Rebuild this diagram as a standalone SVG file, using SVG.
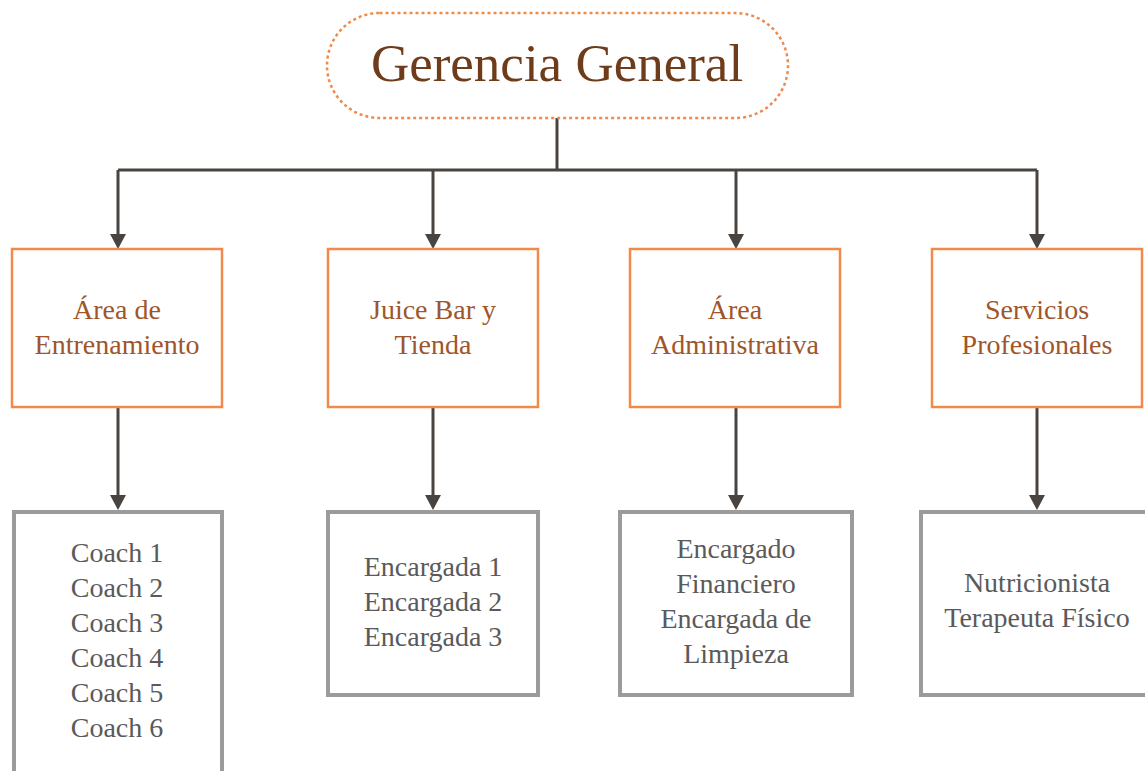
<svg xmlns="http://www.w3.org/2000/svg" width="1145" height="771" viewBox="0 0 1145 771">
<style>
.top{fill:#fff;stroke:#f0894a;stroke-width:2.5;stroke-dasharray:3 3}
.mid{fill:#fff;stroke:#ef8a4a;stroke-width:2.5}
.low{fill:#fff;stroke:#9b9b9b;stroke-width:4}
.t1{font-family:"Liberation Serif",serif;font-size:53px;fill:#6e3c1a;text-anchor:middle}
.t2{font-family:"Liberation Serif",serif;font-size:28px;fill:#a0552a;text-anchor:middle}
.t3{font-family:"Liberation Serif",serif;font-size:28px;fill:#5a5a5a;text-anchor:middle}
.c{fill:none;stroke:#4a4440;stroke-width:3}
</style>
<g id="connectors">
<path class="c" d="M557 118V170M118 170H1037M118 170V236M433 170V236M736 170V236M1037 170V236"/>
<path class="c" d="M118 407V496M433 407V496M736 407V496M1037 407V496"/>
<g fill="#4a4440">
<path d="M110 234H126L118 249Z"/>
<path d="M425 234H441L433 249Z"/>
<path d="M728 234H744L736 249Z"/>
<path d="M1029 234H1045L1037 249Z"/>
<path d="M110 495H126L118 510Z"/>
<path d="M425 495H441L433 510Z"/>
<path d="M728 495H744L736 510Z"/>
<path d="M1029 495H1045L1037 510Z"/>
</g>
</g>
<g id="gerencia">
<rect class="top" x="327" y="13" width="461" height="105" rx="52.5"/>
<text class="t1" x="557" y="81">Gerencia General</text>
</g>
<g id="entrenamiento">
<rect class="mid" x="12" y="249" width="210" height="158"/>
<text class="t2" x="117" y="319">Área de</text>
<text class="t2" x="117" y="354">Entrenamiento</text>
</g>
<g id="juicebar">
<rect class="mid" x="328" y="249" width="210" height="158"/>
<text class="t2" x="433" y="319">Juice Bar y</text>
<text class="t2" x="433" y="354">Tienda</text>
</g>
<g id="administrativa">
<rect class="mid" x="630" y="249" width="210" height="158"/>
<text class="t2" x="735" y="319">Área</text>
<text class="t2" x="735" y="354">Administrativa</text>
</g>
<g id="servicios">
<rect class="mid" x="932" y="249" width="210" height="158"/>
<text class="t2" x="1037" y="319">Servicios</text>
<text class="t2" x="1037" y="354">Profesionales</text>
</g>
<g id="coaches">
<rect class="low" x="14" y="512" width="208" height="280"/>
<text class="t3" x="117" y="562">Coach 1</text>
<text class="t3" x="117" y="597">Coach 2</text>
<text class="t3" x="117" y="632">Coach 3</text>
<text class="t3" x="117" y="667">Coach 4</text>
<text class="t3" x="117" y="702">Coach 5</text>
<text class="t3" x="117" y="737">Coach 6</text>
</g>
<g id="encargadas">
<rect class="low" x="328" y="512" width="210" height="183"/>
<text class="t3" x="433" y="576">Encargada 1</text>
<text class="t3" x="433" y="611">Encargada 2</text>
<text class="t3" x="433" y="646">Encargada 3</text>
</g>
<g id="admin-staff">
<rect class="low" x="620" y="512" width="232" height="183"/>
<text class="t3" x="736" y="558">Encargado</text>
<text class="t3" x="736" y="593">Financiero</text>
<text class="t3" x="736" y="628">Encargada de</text>
<text class="t3" x="736" y="663">Limpieza</text>
</g>
<g id="profesionales">
<rect class="low" x="921" y="512" width="240" height="183"/>
<text class="t3" x="1037" y="592">Nutricionista</text>
<text class="t3" x="1037" y="627">Terapeuta Físico</text>
</g>
</svg>
